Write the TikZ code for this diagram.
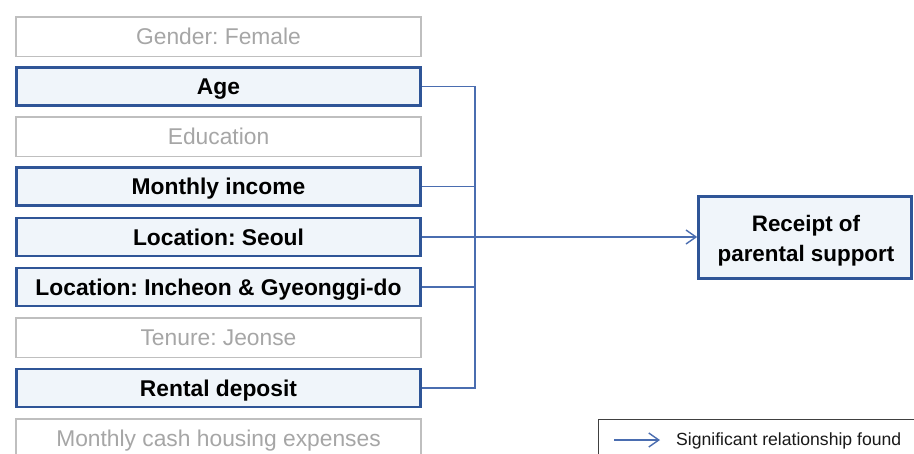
\documentclass[tikz,border=0pt]{standalone}
\usepackage{fontspec}
\setmainfont{Liberation Sans}
\usetikzlibrary{arrows.meta}
\definecolor{bdr}{HTML}{2F5597}
\definecolor{boxfill}{HTML}{F0F5FA}
\definecolor{graybdr}{HTML}{BFBFBF}
\definecolor{graytxt}{HTML}{A6A6A6}
\definecolor{conncol}{HTML}{4A6DB0}
\frenchspacing
\begin{document}
\begin{tikzpicture}[x=1pt,y=-1pt,
  sigbox/.style={draw=bdr, line width=2.6pt, fill=boxfill, minimum width=404pt, minimum height=38pt, inner sep=0pt, text height=16.3pt, text depth=0pt, font=\fontsize{22.8}{26}\selectfont\bfseries},
  nsbox/.style={draw=graybdr, line width=1.5pt, fill=white, minimum width=405pt, minimum height=39.5pt, inner sep=0pt, text height=16.3pt, text depth=0pt, text=graytxt, font=\fontsize{22.8}{26}\selectfont},
  conn/.style={draw=conncol, line width=1.4pt},
  tip/.style={-{Straight Barb[length=10pt,width=14pt]}}
]
\useasboundingbox (0,0) rectangle (914,453);
\clip (0,0) rectangle (914,453);
\fill[white] (0,0) rectangle (914,453);
\node[nsbox]  (gen)  at (218.5,36.5) {Gender: Female};
\node[sigbox] (age)  at (218.5,86.5) {Age};
\node[nsbox]  (edu)  at (218.5,136.5) {Education};
\node[sigbox] (inc)  at (218.5,186.5) {Monthly income};
\node[sigbox] (seo)  at (218.5,237) {Location: Seoul};
\node[sigbox] (ich)  at (218.5,287) {Location: Incheon \& Gyeonggi-do};
\node[nsbox]  (ten)  at (218.5,337.5) {Tenure: Jeonse};
\node[sigbox] (ren)  at (218.5,388) {Rental deposit};
\node[nsbox]  (cash) at (218.5,438.5) {Monthly cash housing expenses};
\node[draw=bdr, line width=2.6pt, fill=boxfill, minimum width=213pt, minimum height=82pt, inner sep=0pt] (tgt) at (805,237.5) {};
\node[align=center, inner sep=0pt, font=\fontsize{22.4}{30}\selectfont\bfseries] (tgtlabel) at (806,240.5) {Receipt of\\parental support};
\coordinate (bt) at (475,86.5);
\coordinate (bb) at (475,388);
\draw[conn] (age.east) -- (bt) -- (bb) -- (ren.east);
\draw[conn] (inc.east) -- (inc.east -| bt);
\draw[conn] (ich.east) -- (ich.east -| bt);
\draw[conn,tip] (seo.east) -- (seo.east -| tgt.west);
% legend
\node[draw=black!75, line width=0.9pt, minimum width=340pt, minimum height=60pt, anchor=north west, inner sep=0pt] (leg) at (598,419) {};
\coordinate (la) at (614,440);
\coordinate (lb) at (660,440);
\draw[conn,tip] (la) -- (lb);
\node[anchor=west, inner sep=0pt, font=\fontsize{17.6}{20}\selectfont, text=black!90] (legt) at (676,440.5) {Significant relationship found};
\end{tikzpicture}
\end{document}
